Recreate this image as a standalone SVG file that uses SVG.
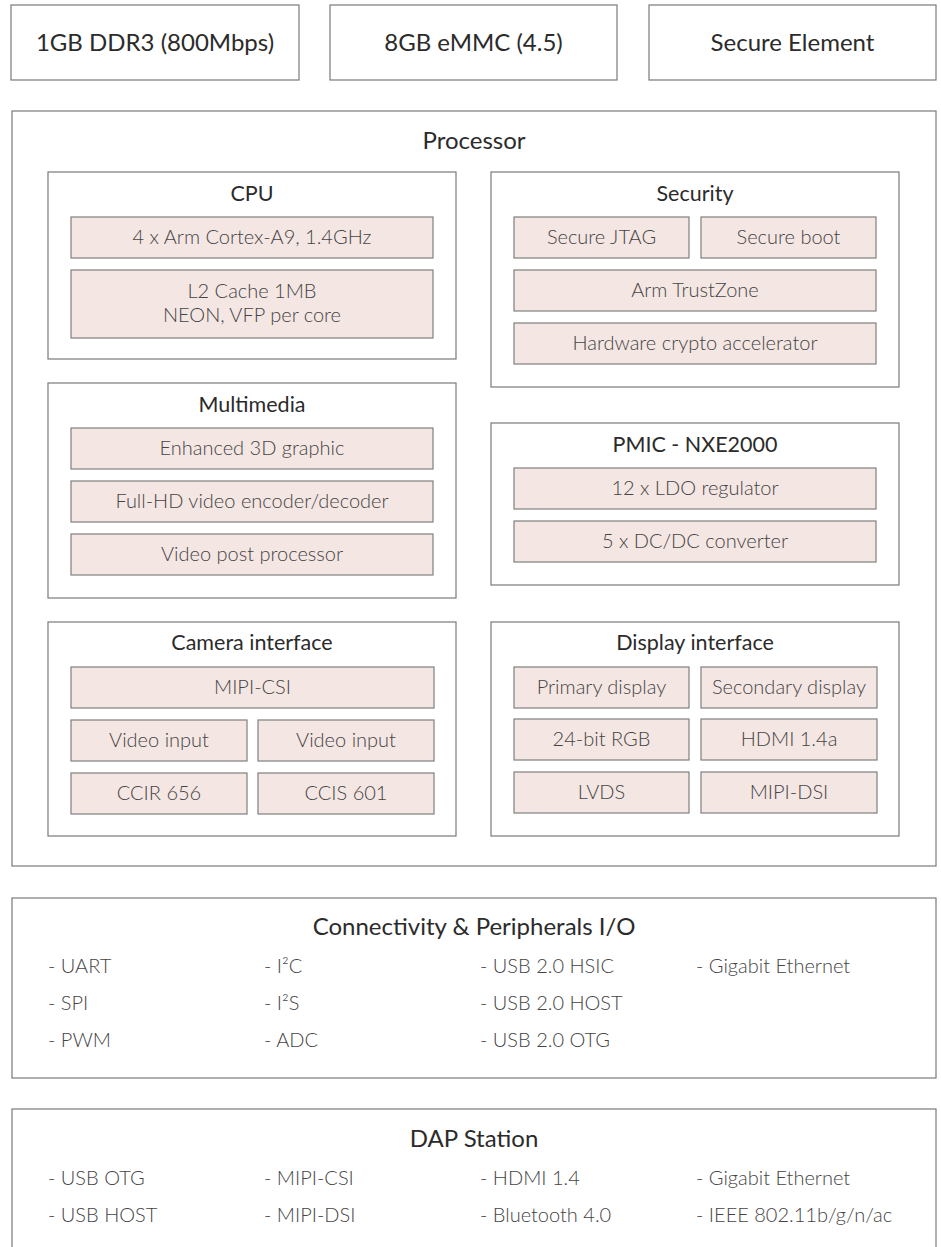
<svg xmlns="http://www.w3.org/2000/svg" width="941" height="1247" viewBox="0 0 941 1247">
<style>
.box{fill:#fff;stroke:#7a7a7a;stroke-width:1.2}
.item{fill:#f4e6e3;stroke:#7f7f7f;stroke-width:1.2}
.big{font-family:Lato,"Liberation Sans",sans-serif;font-size:24px;fill:#2b2b2b;text-anchor:middle}
.head{font-family:Lato,"Liberation Sans",sans-serif;font-size:21.5px;fill:#2b2b2b;text-anchor:middle}
.it{font-family:"Lato Light",Lato,"Liberation Sans",sans-serif;font-weight:300;font-size:20px;fill:#444;text-anchor:middle}
.li{font-family:"Lato Light",Lato,"Liberation Sans",sans-serif;font-weight:300;font-size:20px;fill:#444}
</style>
<rect width="941" height="1247" fill="#fff"/>
<g id="ddr3"><rect class="box" x="11" y="5" width="288" height="75"/><text class="big" x="155" y="51">1GB DDR3 (800Mbps)</text></g>
<g id="emmc"><rect class="box" x="330" y="5" width="287" height="75"/><text class="big" x="473.5" y="51">8GB eMMC (4.5)</text></g>
<g id="secure-element"><rect class="box" x="649" y="5" width="287" height="75"/><text class="big" x="792.5" y="51">Secure Element</text></g>

<g id="processor">
<rect class="box" x="12" y="111" width="924" height="755"/>
<text class="big" x="474" y="149">Processor</text>
</g>

<g id="cpu">
<rect class="box" x="48" y="172" width="408" height="187"/>
<text class="head" x="252" y="201">CPU</text>
<rect class="item" x="71" y="217" width="362" height="41"/><text class="it" x="252" y="244">4 x Arm Cortex-A9, 1.4GHz</text>
<rect class="item" x="71" y="270" width="362" height="68"/><text class="it" x="252" y="298">L2 Cache 1MB</text><text class="it" x="252" y="322">NEON, VFP per core</text>
</g>

<g id="security">
<rect class="box" x="491" y="172" width="408" height="215"/>
<text class="head" x="695" y="201">Security</text>
<rect class="item" x="514" y="217" width="175" height="41"/><text class="it" x="601.5" y="244">Secure JTAG</text>
<rect class="item" x="701" y="217" width="175" height="41"/><text class="it" x="788.5" y="244">Secure boot</text>
<rect class="item" x="514" y="270" width="362" height="41"/><text class="it" x="695" y="297">Arm TrustZone</text>
<rect class="item" x="514" y="323" width="362" height="41"/><text class="it" x="695" y="350">Hardware crypto accelerator</text>
</g>

<g id="multimedia">
<rect class="box" x="48" y="383" width="408" height="215"/>
<text class="head" x="252" y="412">Multimedia</text>
<rect class="item" x="71" y="428" width="362" height="41"/><text class="it" x="252" y="455">Enhanced 3D graphic</text>
<rect class="item" x="71" y="481" width="362" height="41"/><text class="it" x="252" y="508">Full-HD video encoder/decoder</text>
<rect class="item" x="71" y="534" width="362" height="41"/><text class="it" x="252" y="561">Video post processor</text>
</g>

<g id="pmic">
<rect class="box" x="491" y="423" width="408" height="162"/>
<text class="head" x="695" y="452">PMIC - NXE2000</text>
<rect class="item" x="514" y="468" width="362" height="41"/><text class="it" x="695" y="495">12 x LDO regulator</text>
<rect class="item" x="514" y="521" width="362" height="41"/><text class="it" x="695" y="548">5 x DC/DC converter</text>
</g>

<g id="camera">
<rect class="box" x="48" y="622" width="408" height="214"/>
<text class="head" x="252" y="650">Camera interface</text>
<rect class="item" x="71" y="667" width="363" height="41"/><text class="it" x="252.5" y="694">MIPI-CSI</text>
<rect class="item" x="71" y="720" width="176" height="41"/><text class="it" x="159" y="747">Video input</text>
<rect class="item" x="258" y="720" width="176" height="41"/><text class="it" x="346" y="747">Video input</text>
<rect class="item" x="71" y="773" width="176" height="41"/><text class="it" x="159" y="800">CCIR 656</text>
<rect class="item" x="258" y="773" width="176" height="41"/><text class="it" x="346" y="800">CCIS 601</text>
</g>

<g id="display">
<rect class="box" x="491" y="622" width="408" height="214"/>
<text class="head" x="695" y="650">Display interface</text>
<rect class="item" x="514" y="667" width="175" height="41"/><text class="it" x="601.5" y="694">Primary display</text>
<rect class="item" x="701" y="667" width="176" height="41"/><text class="it" x="789" y="694">Secondary display</text>
<rect class="item" x="514" y="719" width="175" height="41"/><text class="it" x="601.5" y="746">24-bit RGB</text>
<rect class="item" x="701" y="719" width="176" height="41"/><text class="it" x="789" y="746">HDMI 1.4a</text>
<rect class="item" x="514" y="772" width="175" height="41"/><text class="it" x="601.5" y="799">LVDS</text>
<rect class="item" x="701" y="772" width="176" height="41"/><text class="it" x="789" y="799">MIPI-DSI</text>
</g>

<g id="connectivity">
<rect class="box" x="12" y="898" width="924" height="180"/>
<text class="big" x="474" y="935">Connectivity &amp; Peripherals I/O</text>
<text class="li" x="48" y="973">- UART</text>
<text class="li" x="48" y="1010">- SPI</text>
<text class="li" x="48" y="1047">- PWM</text>
<text class="li" x="264" y="973">- I²C</text>
<text class="li" x="264" y="1010">- I²S</text>
<text class="li" x="264" y="1047">- ADC</text>
<text class="li" x="480" y="973">- USB 2.0 HSIC</text>
<text class="li" x="480" y="1010">- USB 2.0 HOST</text>
<text class="li" x="480" y="1047">- USB 2.0 OTG</text>
<text class="li" x="696" y="973">- Gigabit Ethernet</text>
</g>

<g id="dap">
<rect class="box" x="12" y="1109" width="924" height="150"/>
<text class="big" x="474" y="1147">DAP Station</text>
<text class="li" x="48" y="1185">- USB OTG</text>
<text class="li" x="48" y="1222">- USB HOST</text>
<text class="li" x="264" y="1185">- MIPI-CSI</text>
<text class="li" x="264" y="1222">- MIPI-DSI</text>
<text class="li" x="480" y="1185">- HDMI 1.4</text>
<text class="li" x="480" y="1222">- Bluetooth 4.0</text>
<text class="li" x="696" y="1185">- Gigabit Ethernet</text>
<text class="li" x="696" y="1222">- IEEE 802.11b/g/n/ac</text>
</g>
<g id="connectors"/>
</svg>
